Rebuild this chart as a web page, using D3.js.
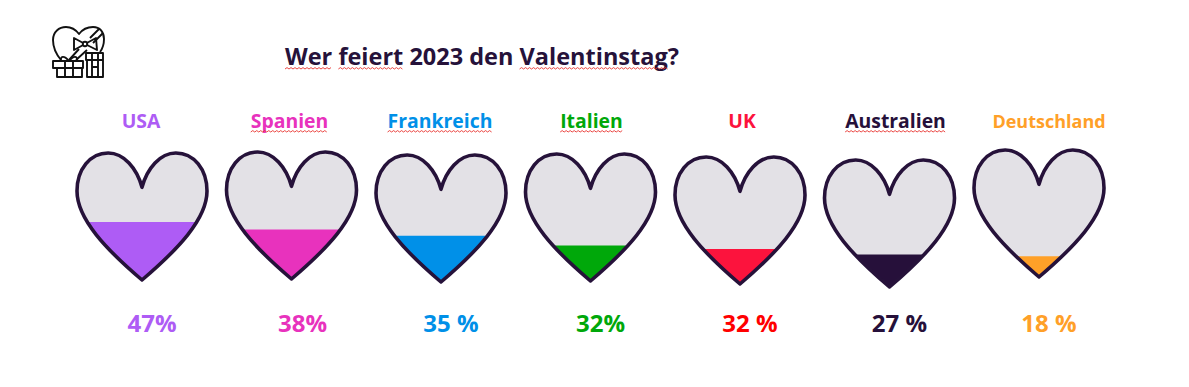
<!DOCTYPE html>
<html>
<head>
<meta charset="utf-8">
<script src="https://cdn.jsdelivr.net/npm/d3@7"></script>
<style>
  html, body { margin: 0; padding: 0; background: #fff; }
  text { font-family: "Open Sans", "Noto Sans", sans-serif; font-weight: 700; }
</style>
</head>
<body>
<svg id="chart" width="1189" height="387"></svg>
<script>
// Chart data
const titleText = 'Wer feiert 2023 den Valentinstag?'
const titleMisspelled = ['Wer', 'feiert', 'Valentinstag'] // words with the red underline
const countries = ['USA', 'Spanien', 'Frankreich', 'Italien', 'UK', 'Australien', 'Deutschland']
const valueLabels = ['47%', '38%', '35 %', '32%', '32 %', '27 %', '18 %']
// How high the fill stands in each heart, in % of the heart height
const fillLevels = [45.7, 39, 36.4, 28, 27.5, 25.6, 16.4]
const countryColors = ['#ae5cf5', '#e832bd', '#0090e8', '#00a80a', '#fc133d', '#26103a', '#ffa028']
const valueColors = ['#ae5cf5', '#e832bd', '#0090e8', '#00a80a', '#ff0000', '#26103a', '#ffa028']
const misspelled = [false, true, true, true, false, true, false] // red spell check underline

// Layout
const dark = '#26123a'
const heartBack = '#e3e1e6'
const heartHalfWidth = 65
const heartHeight = 127
const heartTipY = 281
const heartDrift = [-1, -2, 1, 0, 3, 6, -4] // hearts are not quite on one line
const labelShift = [-1, -2, -1, 1, 2, 6, 10]
const valueShift = [10, 11, 10, 10, 10, 10, 10]

const svg = d3.select('#chart')

const xScale = d3.scalePoint().domain(countries).range([142, 1039])
const levelScale = d3.scaleLinear().domain([0, 100]).range([heartHeight, 0])

// Heart outline, tip at 0,height and lobes on the top edge
function heartPath () {
  const sx = d3.scaleLinear().domain([-1, 1]).range([-heartHalfWidth, heartHalfWidth])
  const sy = d3.scaleLinear().domain([0, 1]).range([0, heartHeight])
  const p = d3.path()
  p.moveTo(sx(0), sy(0.27))
  p.bezierCurveTo(sx(-0.08), sy(0.12), sx(-0.28), sy(0), sx(-0.52), sy(0))
  p.bezierCurveTo(sx(-0.8), sy(0), sx(-1), sy(0.13), sx(-1), sy(0.3))
  p.bezierCurveTo(sx(-1), sy(0.52), sx(-0.55), sy(0.76), sx(0), sy(1))
  p.bezierCurveTo(sx(0.55), sy(0.76), sx(1), sy(0.52), sx(1), sy(0.3))
  p.bezierCurveTo(sx(1), sy(0.13), sx(0.8), sy(0), sx(0.52), sy(0))
  p.bezierCurveTo(sx(0.28), sy(0), sx(0.08), sy(0.12), sx(0), sy(0.27))
  p.closePath()
  return p.toString()
}

// Red wavy underline like the spell checker draws it
function squiggle (x0, x1, y) {
  const p = d3.path()
  p.moveTo(x0, y)
  let up = true
  for (let x = x0 + 2; x <= x1; x += 2) {
    p.lineTo(x, up ? y - 1.4 : y)
    up = !up
  }
  return p.toString()
}

function drawSquiggle (x0, x1, y) {
  svg.append('path')
    .attr('d', squiggle(x0, x1, y))
    .attr('fill', 'none')
    .attr('stroke', '#e8322e')
    .attr('stroke-width', 0.9)
}

const defs = svg.append('defs')
const heartD = heartPath()

countries.forEach((country, i) => {
  const g = svg.append('g')
    .attr('transform', `translate(${xScale(country)},${heartTipY + heartDrift[i] - heartHeight})`)

  defs.append('clipPath').attr('id', `level-${i}`)
    .append('rect')
    .attr('x', -heartHalfWidth - 4)
    .attr('y', levelScale(fillLevels[i]))
    .attr('width', heartHalfWidth * 2 + 8)
    .attr('height', heartHeight - levelScale(fillLevels[i]) + 4)

  g.append('path').attr('d', heartD).attr('fill', heartBack)
  g.append('path').attr('d', heartD).attr('fill', countryColors[i]).attr('clip-path', `url(#level-${i})`)
  g.append('path').attr('d', heartD)
    .attr('fill', 'none')
    .attr('stroke', dark)
    .attr('stroke-width', 3.6)
    .attr('stroke-linejoin', 'round')

  const label = svg.append('text')
    .attr('x', xScale(country) + labelShift[i])
    .attr('y', 128)
    .attr('text-anchor', 'middle')
    .attr('font-size', country === 'Deutschland' ? 18 : 19.4)
    .attr('fill', countryColors[i])
    .text(country)
  if (misspelled[i]) {
    const box = label.node().getBBox()
    drawSquiggle(box.x, box.x + box.width, 132)
  }

  svg.append('text')
    .attr('x', xScale(country) + valueShift[i])
    .attr('y', 332)
    .attr('text-anchor', 'middle')
    .attr('font-size', 24)
    .attr('fill', valueColors[i])
    .text(valueLabels[i])
})

// Title
const title = svg.append('text')
  .attr('x', 285)
  .attr('y', 65)
  .attr('font-size', 23.5)
  .attr('fill', dark)
  .text(titleText)

titleMisspelled.forEach((word) => {
  const start = titleText.indexOf(word)
  const node = title.node()
  drawSquiggle(node.getStartPositionOfChar(start).x, node.getEndPositionOfChar(start + word.length - 1).x, 69)
})

// Gift icon top left
const icon = svg.append('g')
  .attr('fill', 'none')
  .attr('stroke', '#111')
  .attr('stroke-width', 1.9)
  .attr('stroke-linejoin', 'round')
// heart with the ribbon across it
icon.append('path').attr('d', 'M61,60 C56,54 53,47 53,40 C53,32 59,27 66,27 C71,27 76,30 79,34 C82,30 87,27 93,27 C100,27 104,32 104,39 C104,44 103,48 100,52')
icon.append('path').attr('d', 'M69,60 L79,49 M90,38 L99,29 M76,60 L87,50 M93,43 L103,33')
// bow
icon.append('path').attr('d', 'M85,44 L74,38 L74,50 Z M85,44 L96,38 L97,50 Z')
icon.append('circle').attr('cx', 85).attr('cy', 44).attr('r', 2.2).attr('fill', '#fff')
// left gift
icon.append('path').attr('d', 'M53,61 L83,61 L83,68 L53,68 Z M57,68 L57,77 L82,77 L82,68 M65,61 L65,77 M73,61 L73,77')
icon.append('path').attr('d', 'M69,61 C64,55 60,56 61,61 M69,61 C74,55 78,56 77,61')
// right gift
icon.append('path').attr('d', 'M86,53 L103,53 L103,60 L86,60 Z M87,60 L87,77 L103,77 L103,60 M92,53 L92,77 M98,53 L98,77 M92,67 L98,67')
</script>
</body>
</html>
